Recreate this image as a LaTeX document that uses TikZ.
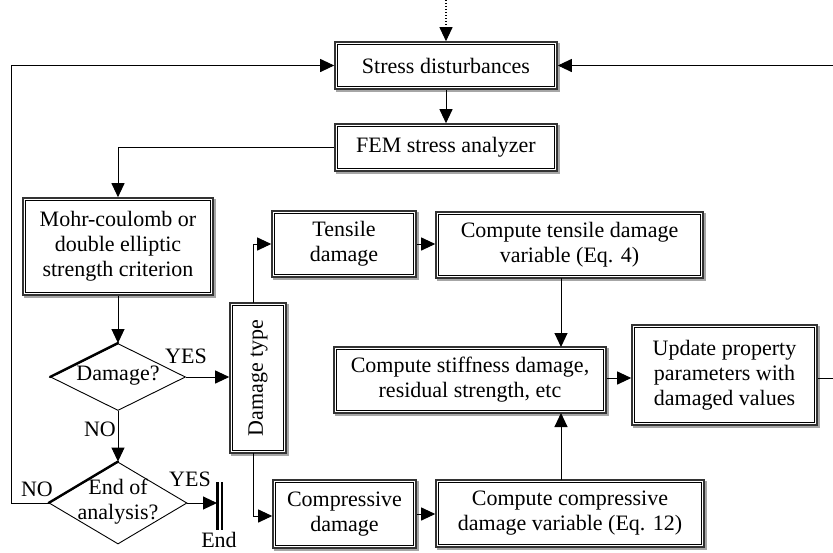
\documentclass[tikz,border=0pt]{standalone}
\usepackage{fontspec}
\setmainfont{Liberation Serif}
\usetikzlibrary{arrows.meta,shapes.geometric}
\newcommand\fs{\fontsize{22}{25}\selectfont}
\begin{document}
\begin{tikzpicture}[x=1pt,y=-1pt,
  box/.style={draw=black!80, line width=1.6pt, fill=white,
    align=center, inner sep=0pt, font=\fs},
  diam/.style={draw=black, line width=0.9pt, diamond, inner sep=0pt, fill=white},
  lab/.style={font=\fs, inner sep=0pt},
  conn/.style={line width=1pt, -{Triangle[length=14pt,width=13pt]}},
  plain/.style={line width=1pt}]
\useasboundingbox (0,0) rectangle (833,552);
% boxes
\node[box, minimum width=222pt, minimum height=47pt] (stress) at (446,65.5) {Stress disturbances};
\node[box, minimum width=222pt, minimum height=47pt] (fem) at (446,147.5) {FEM stress analyzer};
\node[box, minimum width=190pt, minimum height=97pt] (mohr) at (118,246.5) {Mohr-coulomb or\\double elliptic\\strength criterion};
\node[box, minimum width=56pt, minimum height=150pt] (dtype) at (258,378) {\rotatebox{90}{Damage type}};
\node[box, minimum width=144pt, minimum height=66pt] (tens) at (344,244) {Tensile\\damage};
\node[box, minimum width=267pt, minimum height=66pt] (ctens) at (569.5,245) {Compute tensile damage\\variable (Eq. 4)};
\node[box, minimum width=272pt, minimum height=66pt] (stiff) at (470,380) {Compute stiffness damage,\\residual strength, etc};
\node[box, minimum width=185pt, minimum height=100pt] (upd) at (724.5,375) {Update property\\parameters with\\damaged values};
\node[box, minimum width=143pt, minimum height=68pt] (comp) at (344.5,514) {Compressive\\damage};
\node[box, minimum width=268pt, minimum height=67pt] (ccomp) at (570,513.5) {Compute compressive\\damage variable (Eq. 12)};
\foreach \n in {stress,fem,mohr,dtype,tens,ctens,stiff,upd,comp,ccomp}{
  \draw[line width=0.8pt] ([shift={(3.4pt,-3.4pt)}]\n.north west) rectangle ([shift={(-3.4pt,3.4pt)}]\n.south east);
  \draw[gray!70, line width=2pt] ([shift={(1pt,-2pt)}]\n.north east) -- ([shift={(1pt,-1pt)}]\n.south east) -- ([shift={(2pt,-1pt)}]\n.south west);
}
% diamonds
\node[diam, minimum width=135pt, minimum height=67pt] (dmg) at (118,377) {};
\draw[line width=2.4pt, line cap=round] (dmg.west) -- (dmg.north);
\node[lab] (dmgt) at (118,376) {Damage?};
\node[diam, minimum width=138pt, minimum height=82pt] (endq) at (118,503) {};
\draw[line width=2.4pt, line cap=round] (endq.west) -- (endq.north);
\node[lab, align=center] (endqt) at (118,502) {End of\\analysis?};
% end bar
\coordinate (barT) at (217,482);
\coordinate (barB) at (217,530);
\draw[line width=3pt] (barT) -- (barB);
\draw[line width=1.6pt] ([xshift=5pt]barT) -- ([xshift=5pt]barB);
\node[lab] (endt) at (219,540) {End};
% connectors
\coordinate (top) at (446,0);
\coordinate (rightout) at (845,378);
\draw[plain, dotted, line width=1.2pt] (top) -- (446,30);
\draw[conn] (446,29) -- (stress.north);
\draw[conn] (stress.south) -- (fem.north);
\draw[conn] (fem.west) -| (mohr.north);
\draw[conn] (mohr.south) -- (dmg.north);
\draw[conn] (dmg.east) -- (dtype.west |- dmg.east);
\draw[conn] (dmg.south) -- (endq.north);
\draw[conn] (endq.west) -- (11,503) -- (11,65.5) -- (stress.west);
\draw[conn] (endq.east) -- (barT |- endq.east);
\draw[conn] (253,303) -- (253,244) -- (tens.west);
\draw[conn] (253,453) -- (253,516) -- (comp.west |- 0,516);
\draw[conn] (tens.east) -- (ctens.west |- tens.east);
\draw[conn] (comp.east) -- (ccomp.west |- comp.east);
\draw[conn] (561,278) -- (561,347);
\draw[conn] (561,480) -- (561,413);
\draw[conn] (stiff.east |- 0,378) -- (upd.west |- 0,378);
\draw[conn] (upd.east |- 0,378) -- (rightout) -- (845,65.5) -- (stress.east);
% labels
\node[lab] (yes1) at (186,356) {YES};
\node[lab] (no1) at (100,429) {NO};
\node[lab] (yes2) at (190,479) {YES};
\node[lab] (no2) at (37,489) {NO};
\end{tikzpicture}
\end{document}
